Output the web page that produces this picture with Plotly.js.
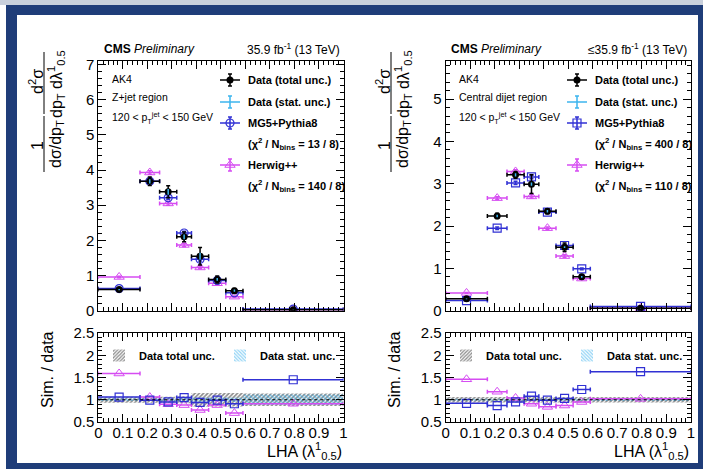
<!DOCTYPE html>
<html><head><meta charset="utf-8">
<script src="https://cdn.plot.ly/plotly-3.0.1.min.js"></script>
<style>html,body{margin:0;padding:0;background:#fff;}#chart{width:703px;height:469px;}</style>
</head><body><div id="chart"></div>
<script>
// ---------- data ----------
const binLo = [0, 0.17, 0.25, 0.32, 0.38, 0.45, 0.52, 0.59];
const binHi = [0.17, 0.25, 0.32, 0.38, 0.45, 0.52, 0.59, 1.0];
const binCenter = [0.085, 0.21, 0.285, 0.35, 0.415, 0.485, 0.555, 0.795];
const xTickLabels = ['0','0.1','0.2','0.3','0.4','0.5','0.6','0.7','0.8','0.9','1'];

// Z+jet region (left)
const zData      = [0.60, 3.68, 3.38, 2.10, 1.55, 0.89, 0.57, 0.03];
const zDataTot   = [0.03, 0.12, 0.17, 0.14, 0.25, 0.10, 0.06, 0.01];
const zDataStat  = [0.02, 0.06, 0.08, 0.07, 0.10, 0.04, 0.03, 0.005];
const zMG        = [0.63, 3.68, 3.21, 2.21, 1.46, 0.86, 0.51, 0.045];
const zMGErr     = [0.02, 0.05, 0.05, 0.05, 0.05, 0.03, 0.02, 0.003];
const zHw        = [0.96, 3.93, 3.05, 1.87, 1.23, 0.78, 0.40, 0.03];
const zHwErr     = [0.02, 0.05, 0.05, 0.05, 0.04, 0.03, 0.02, 0.003];
const zMGRatio   = [1.06, 0.99, 0.95, 1.05, 0.94, 0.99, 0.91, 1.45];
const zHwRatio   = [1.59, 1.06, 0.90, 0.88, 0.77, 0.88, 0.70, 0.91];
const zBandTot   = [0.07, 0.07, 0.07, 0.08, 0.15, 0.15, 0.15, 0.14];
const zBandStat  = [0.03, 0.03, 0.03, 0.04, 0.05, 0.05, 0.05, 0.12];

// Central dijet region (right)
const dData      = [0.28, 2.24, 3.21, 2.99, 2.35, 1.50, 0.80, 0.06];
const dDataTot   = [0.02, 0.06, 0.08, 0.22, 0.06, 0.10, 0.05, 0.005];
const dDataStat  = [0.01, 0.03, 0.04, 0.04, 0.03, 0.02, 0.02, 0.003];
const dMG        = [0.24, 1.95, 3.02, 3.16, 2.33, 1.54, 0.99, 0.10];
const dMGErr     = [0.01, 0.03, 0.04, 0.04, 0.03, 0.03, 0.02, 0.003];
const dHw        = [0.42, 2.66, 3.29, 2.70, 1.95, 1.29, 0.76, 0.06];
const dHwErr     = [0.01, 0.03, 0.04, 0.04, 0.03, 0.03, 0.02, 0.003];
const dMGRatio   = [0.92, 0.87, 0.95, 1.08, 0.99, 1.03, 1.23, 1.63];
const dHwRatio   = [1.46, 1.18, 1.04, 0.91, 0.84, 0.87, 0.95, 1.02];
const dBandTot   = [0.06, 0.06, 0.06, 0.06, 0.06, 0.06, 0.06, 0.06];
const dBandStat  = [0.02, 0.02, 0.02, 0.02, 0.02, 0.02, 0.02, 0.03];

// ---------- styling ----------
const FONT = 'Liberation Sans, Arial, Helvetica, sans-serif';
const BLACK = '#000000', BLUE = '#3131d4', MAG = '#d64cf2', CYAN = '#3db5ee';
const NAVY = '#1f3d79';
const W = 703, H = 469;

const exPlus = binCenter.map((c, i) => binHi[i] - c);
const exMinus = binCenter.map((c, i) => c - binLo[i]);
const binWidth = binCenter.map((c, i) => binHi[i] - binLo[i]);
const binMid = binCenter.map((c, i) => (binHi[i] + binLo[i]) / 2);

function ex(color) {
  return {type: 'data', symmetric: false, array: exPlus, arrayminus: exMinus,
          color: color, thickness: 1.5, width: 2};
}
function ey(arr, color, w) {
  return {type: 'data', array: arr, color: color, thickness: 1.5, width: (w === undefined ? 2 : w)};
}
const triMarker = {symbol: 'triangle-up-open', size: 9, color: MAG, line: {width: 1, color: MAG}};

function panelTraces(xa, ya, xr, yr, data, tot, stat, mg, mgErr, hw, hwErr, mgR, hwR,
                     bandTot, bandStat, mgSymbol, legendName) {
  const t = [];
  t.push({type: 'scatter', mode: 'markers', x: binCenter, y: hw, xaxis: xa, yaxis: ya,
          marker: triMarker, error_x: ex(MAG), error_y: ey(hwErr, MAG), showlegend: false, hoverinfo: 'skip'});
  t.push({type: 'scatter', mode: 'markers', x: binCenter, y: mg, xaxis: xa, yaxis: ya,
          marker: {symbol: mgSymbol, size: 8, color: BLUE, line: {width: 1.2, color: BLUE}},
          error_x: ex(BLUE), error_y: ey(mgErr, BLUE), showlegend: false, hoverinfo: 'skip'});
  t.push({type: 'scatter', mode: 'markers', x: binCenter, y: data, xaxis: xa, yaxis: ya,
          marker: {symbol: 'circle', size: 7, color: BLACK},
          error_x: ex(BLACK), error_y: ey(tot, BLACK), showlegend: false, hoverinfo: 'skip'});
  t.push({type: 'scatter', mode: 'markers', x: binCenter, y: data, xaxis: xa, yaxis: ya,
          marker: {symbol: 'circle', size: 1, color: 'rgba(0,0,0,0)'},
          error_y: ey(stat, CYAN, 0), showlegend: false, hoverinfo: 'skip'});
  t.push({type: 'bar', x: binMid, width: binWidth, base: bandTot.map(u => 1 - u),
          y: bandTot.map(u => 2 * u), xaxis: xr, yaxis: yr, name: '<b>Data total unc.</b>',
          legend: legendName, showlegend: true, hoverinfo: 'skip',
          marker: {color: 'rgba(0,0,0,0)', line: {width: 0},
                   pattern: {shape: '/', fgcolor: '#1c1c1c', bgcolor: 'rgba(255,255,255,0)', size: 3, solidity: 0.55, fillmode: 'overlay'}}});
  t.push({type: 'bar', x: binMid, width: binWidth, base: bandStat.map(u => 1 - u),
          y: bandStat.map(u => 2 * u), xaxis: xr, yaxis: yr, name: '<b>Data stat. unc.</b>',
          legend: legendName, showlegend: true, hoverinfo: 'skip',
          marker: {color: 'rgba(0,0,0,0)', line: {width: 0},
                   pattern: {shape: '\\', fgcolor: '#22a8ec', bgcolor: 'rgba(255,255,255,0)', size: 3, solidity: 0.5, fillmode: 'overlay'}}});
  t.push({type: 'scatter', mode: 'markers', x: binCenter, y: hwR, xaxis: xr, yaxis: yr,
          marker: triMarker, error_x: ex(MAG), showlegend: false, hoverinfo: 'skip'});
  t.push({type: 'scatter', mode: 'markers', x: binCenter, y: mgR, xaxis: xr, yaxis: yr,
          marker: {symbol: 'square-open', size: 8, color: BLUE, line: {width: 1.2, color: BLUE}},
          error_x: ex(BLUE), showlegend: false, hoverinfo: 'skip'});
  return t;
}

let traces = [];
traces = traces.concat(panelTraces('x', 'y', 'x2', 'y2', zData, zDataTot, zDataStat, zMG, zMGErr,
  zHw, zHwErr, zMGRatio, zHwRatio, zBandTot, zBandStat, 'circle-open', 'legend'));
traces = traces.concat(panelTraces('x3', 'y3', 'x4', 'y4', dData, dDataTot, dDataStat, dMG, dMGErr,
  dHw, dHwErr, dMGRatio, dHwRatio, dBandTot, dBandStat, 'square-open', 'legend2'));

// ---------- manual legend keys in pixel coordinates (overlay axes x5/y5) ----------
function legendKey(px, py, kind, mgSymbol) {
  const base = {type: 'scatter', mode: 'markers', x: [px], y: [py], xaxis: 'x5', yaxis: 'y5',
                showlegend: false, hoverinfo: 'skip'};
  const hx = (c) => ({type: 'constant', value: 10, color: c, thickness: 1.5, width: 0});
  const vy = (c) => ({type: 'constant', value: 6, color: c, thickness: 1.5, width: 2});
  if (kind === 'data') return Object.assign(base, {marker: {symbol: 'circle', size: 7, color: BLACK}, error_x: hx(BLACK), error_y: vy(BLACK)});
  if (kind === 'stat') return Object.assign(base, {marker: {size: 1, color: 'rgba(0,0,0,0)'}, error_x: hx(CYAN), error_y: vy(CYAN)});
  if (kind === 'mg') return Object.assign(base, {marker: {symbol: mgSymbol, size: 8, color: BLUE, line: {width: 1.2, color: BLUE}}, error_x: hx(BLUE), error_y: vy(BLUE)});
  return Object.assign(base, {marker: triMarker, error_x: hx(MAG), error_y: vy(MAG)});
}
const legRows = [80, 102, 123, 165];
const legKinds = ['data', 'stat', 'mg', 'hw'];
legKinds.forEach((k, i) => {
  traces.push(legendKey(230, legRows[i], k, 'circle-open'));
  traces.push(legendKey(577, legRows[i], k, 'square-open'));
});

// ---------- annotations ----------
const ann = [];
function txt(x, y, text, size, opts) {
  ann.push(Object.assign({xref: 'x5', yref: 'y5', x: x, y: y, text: text, showarrow: false,
    xanchor: 'left', yanchor: 'middle', font: {family: FONT, size: size, color: BLACK}}, opts || {}));
}
function panelText(off, lumi, region, chi2mg, chi2hw) {
  txt(102 + off, 49, '<b>CMS</b> <i>Preliminary</i>', 12);
  txt(342 + off, 49, lumi, 12, {xanchor: 'right'});
  txt(110 + off, 79, 'AK4', 10.5);
  txt(110 + off, 97, region, 10.5);
  txt(110 + off, 118, '120 &lt; p<sub>T</sub><sup>jet</sup> &lt; 150 GeV', 10.5);
  const lx = 246 + off;
  txt(lx, 80, '<b>Data (total unc.)</b>', 11);
  txt(lx, 102, '<b>Data (stat. unc.)</b>', 11);
  txt(lx, 123, '<b>MG5+Pythia8</b>', 11);
  txt(lx, 144, '<b>(χ<sup>2</sup> / N<sub>bins</sub> = ' + chi2mg + ')</b>', 11);
  txt(lx, 165, '<b>Herwig++</b>', 11);
  txt(lx, 186, '<b>(χ<sup>2</sup> / N<sub>bins</sub> = ' + chi2hw + ')</b>', 11);
  txt(344 + off, 451, 'LHA (λ<sup>1</sup><sub>0.5</sub>)', 16, {xanchor: 'right'});
  txt(47 + off, 370, 'Sim. / data', 16, {xanchor: 'center', textangle: -90});
  txt(37 + off, 146, '1', 16, {xanchor: 'center', textangle: -90});
  txt(56 + off, 144, 'dσ/dp<sub>T</sub>', 16, {xanchor: 'center', textangle: -90});
  txt(36 + off, 82, 'd<sup>2</sup>σ', 16, {xanchor: 'center', textangle: -90});
  txt(56 + off, 84, 'dp<sub>T</sub> dλ<sup>1</sup><sub>0.5</sub>', 16, {xanchor: 'center', textangle: -90});
}
panelText(0, '35.9 fb<sup>-1</sup> (13 TeV)', 'Z+jet region', '13 / 8', '140 / 8');
panelText(347, '≤35.9 fb<sup>-1</sup> (13 TeV)', 'Central dijet region', '400 / 8', '110 / 8');

// ---------- shapes ----------
const shapes = [
  {type: 'rect', xref: 'paper', yref: 'paper', x0: 0, x1: 1, y0: 1 - 5 / H, y1: 1, fillcolor: '#c9d0dc', line: {width: 0}, layer: 'below'},
  {type: 'rect', xref: 'paper', yref: 'paper', x0: 6 / W, x1: 1, y0: 0, y1: 1 - 5 / H, fillcolor: NAVY, line: {width: 0}, layer: 'below'},
  {type: 'rect', xref: 'paper', yref: 'paper', x0: 17 / W, x1: 698 / W, y0: 1 - 463 / H, y1: 1 - 15 / H, fillcolor: '#ffffff', line: {width: 0}, layer: 'below'},
  {type: 'line', xref: 'x2', yref: 'y2', x0: 0, x1: 1, y0: 1, y1: 1, line: {color: BLACK, width: 1, dash: 'dot'}},
  {type: 'line', xref: 'x4', yref: 'y4', x0: 0, x1: 1, y0: 1, y1: 1, line: {color: BLACK, width: 1, dash: 'dot'}}
];
[0, 347].forEach(off => {
  shapes.push({type: 'line', xref: 'x5', yref: 'y5', x0: 44 + off, x1: 44 + off, y0: 116, y1: 172, line: {color: BLACK, width: 1}});
  shapes.push({type: 'line', xref: 'x5', yref: 'y5', x0: 44 + off, x1: 44 + off, y0: 52, y1: 114, line: {color: BLACK, width: 1}});
});

// ---------- axes ----------
function axis(extra) {
  return Object.assign({showline: true, linecolor: BLACK, linewidth: 1, mirror: 'allticks',
    ticks: 'inside', ticklen: 8, tickcolor: BLACK, tickwidth: 1, showgrid: false, zeroline: false,
    tickfont: {family: FONT, size: 15, color: BLACK}, fixedrange: true, automargin: false}, extra);
}
const mnr = (d) => ({ticks: 'inside', ticklen: 4, tickcolor: BLACK, dtick: d, showgrid: false});
const xL = [98.3 / W, 343.5 / W], xR = [445.7 / W, 690.8 / W];
const yMain = [1 - 310.7 / H, 1 - 61 / H], yRat = [1 - 422 / H, 1 - 333 / H];

const legendBase = {xanchor: 'left', yanchor: 'top', orientation: 'h',
  bgcolor: 'rgba(0,0,0,0)', font: {family: FONT, size: 11, color: BLACK},
  entrywidth: 76, entrywidthmode: 'pixels', itemwidth: 30, tracegroupgap: 0};

const layout = {
  width: W, height: H, margin: {l: 0, r: 0, t: 0, b: 0, pad: 0, autoexpand: false},
  paper_bgcolor: '#ffffff', plot_bgcolor: 'rgba(0,0,0,0)',
  font: {family: FONT, color: BLACK},
  barmode: 'overlay', showlegend: true,
  xaxis: axis({domain: xL, anchor: 'y', range: [0, 1], dtick: 0.1, showticklabels: false, minor: mnr(0.02)}),
  yaxis: axis({domain: yMain, anchor: 'x', range: [0, 7.1], dtick: 1, minor: mnr(0.2)}),
  xaxis2: axis({domain: xL, anchor: 'y2', range: [0, 1], tickvals: xTickLabels.map(Number), ticktext: xTickLabels, minor: mnr(0.02), ticklabelstandoff: -3}),
  yaxis2: axis({domain: yRat, anchor: 'x2', range: [0.5, 2.5], dtick: 0.5, minor: mnr(0.1)}),
  xaxis3: axis({domain: xR, anchor: 'y3', range: [0, 1], dtick: 0.1, showticklabels: false, minor: mnr(0.02)}),
  yaxis3: axis({domain: yMain, anchor: 'x3', range: [0, 5.9], dtick: 1, minor: mnr(0.2)}),
  xaxis4: axis({domain: xR, anchor: 'y4', range: [0, 1], tickvals: xTickLabels.map(Number), ticktext: xTickLabels, minor: mnr(0.02), ticklabelstandoff: -3}),
  yaxis4: axis({domain: yRat, anchor: 'x4', range: [0.5, 2.5], dtick: 0.5, minor: mnr(0.1)}),
  xaxis5: {domain: [0, 1], anchor: 'y5', range: [0, W], visible: false, fixedrange: true},
  yaxis5: {domain: [0, 1], anchor: 'x5', range: [H, 0], visible: false, fixedrange: true},
  legend: Object.assign({x: 99 / W, y: 1 - 341 / H}, legendBase),
  legend2: Object.assign({x: 446 / W, y: 1 - 341 / H}, legendBase),
  annotations: ann, shapes: shapes
};

Plotly.newPlot('chart', traces, layout, {staticPlot: true, displayModeBar: false});
</script></body></html>
